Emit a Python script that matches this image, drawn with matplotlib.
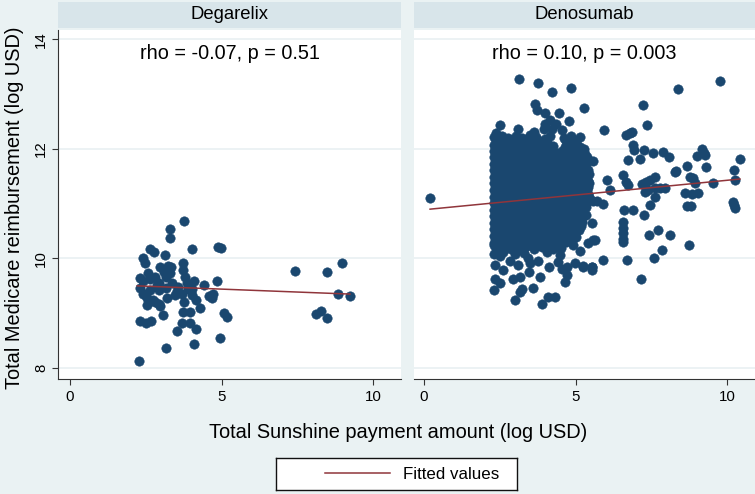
import matplotlib
matplotlib.use("Agg")
import matplotlib.pyplot as plt
from matplotlib.lines import Line2D

plt.rcParams['font.family'] = ['Liberation Sans', 'DejaVu Sans']

# ---- data ----
panel_names = ["Degarelix", "Denosumab"]
panel_stats = ["rho = -0.07, p = 0.51", "rho = 0.10, p = 0.003"]
x_ticks = [0, 5, 10]
y_ticks = [8, 10, 12, 14]

deg_x = [2.28, 3.17, 4.09, 4.96, 3.53, 4.16, 3.71, 3.95, 2.31, 2.51, 2.66, 3.08, 3.73, 3.95,
         4.30, 5.09, 5.17, 8.13, 8.30, 8.49, 8.83, 9.24, 7.42, 8.49, 8.97, 3.77, 3.30, 3.31,
         2.63, 2.77, 3.13, 4.04, 4.89, 4.99, 2.42, 2.49, 3.24, 3.33, 3.74, 3.74, 3.10, 3.17,
         3.80, 2.42, 2.64, 2.81, 2.95, 3.36, 4.10, 4.42, 4.84, 2.31, 2.40, 2.55, 2.81, 2.95,
         2.55, 3.21, 3.47, 3.54, 3.90, 4.02, 4.16, 4.60, 4.71, 4.68, 2.95, 3.17, 2.64, 3.69,
         4.02, 2.75, 2.97, 2.31, 3.57, 3.30, 2.58, 3.85, 2.97, 2.86, 3.76, 2.47]
deg_y = [8.13, 8.36, 8.44, 8.55, 8.67, 8.72, 8.82, 8.83, 8.86, 8.83, 8.85, 8.96, 9.03, 9.03,
         9.09, 9.00, 8.94, 8.98, 9.05, 8.91, 9.36, 9.31, 9.78, 9.76, 9.92, 10.69, 10.53, 10.38,
         10.17, 10.11, 10.07, 10.17, 10.21, 10.19, 10.00, 9.91, 9.87, 9.85, 9.91, 9.79, 9.76, 9.67,
         9.67, 9.58, 9.62, 9.67, 9.56, 9.56, 9.59, 9.51, 9.58, 9.47, 9.36, 9.27, 9.21, 9.17,
         9.15, 9.27, 9.33, 9.41, 9.44, 9.33, 9.25, 9.31, 9.35, 9.27, 9.42, 9.47, 9.42, 9.36,
         9.45, 9.24, 9.13, 9.64, 9.48, 9.73, 9.73, 9.55, 9.85, 9.51, 9.21, 9.36]

# Denosumab: dense block between 2.3 and 5.4, then the scattered points around it
den_x = [
    2.31, 2.57, 2.76, 3.04, 3.23, 3.51, 3.70, 3.98, 4.17, 4.63, 4.86,
    2.30, 2.44, 2.66, 2.92, 3.13, 3.39, 3.60, 3.86, 4.07, 4.25, 4.77, 5.01,
    2.31, 2.54, 2.80, 3.01, 3.27, 3.48, 3.74, 3.95, 4.19, 4.57, 4.83, 5.06, 5.29,
    2.32, 2.42, 2.68, 2.89, 3.15, 3.36, 3.62, 3.83, 4.09, 4.27, 4.49, 4.73, 4.94, 5.19, 5.39,
    2.30, 2.56, 2.78, 3.03, 3.25, 3.50, 3.72, 3.97, 4.21, 4.61, 4.86, 5.07, 5.33,
    2.31, 2.44, 2.66, 2.91, 3.13, 3.38, 3.60, 3.85, 4.07, 4.32, 4.51, 4.76, 4.97, 5.21, 5.41,
    2.32, 2.54, 2.80, 3.01, 3.27, 3.48, 3.74, 3.95, 4.21, 4.42, 4.67, 4.87, 5.13, 5.34,
    2.30, 2.42, 2.68, 2.89, 3.15, 3.36, 3.62, 3.83, 4.09, 4.30, 4.55, 4.77, 5.03, 5.24, 5.45,
    2.31, 2.56, 2.78, 3.03, 3.25, 3.50, 3.72, 3.97, 4.19, 4.44, 4.65, 4.91, 5.13, 5.37,
    2.32, 2.44, 2.66, 2.91, 3.13, 3.38, 3.60, 3.85, 4.07, 4.32, 4.53, 4.79, 5.01, 5.27, 5.44,
    2.30, 2.54, 2.80, 3.01, 3.27, 3.48, 3.74, 3.95, 4.21, 4.42, 4.67, 4.89, 5.15, 5.37,
    2.31, 2.42, 2.68, 2.89, 3.15, 3.36, 3.62, 3.83, 4.09, 4.30, 4.55, 4.77, 5.03, 5.25,
    2.32, 2.56, 2.78, 3.03, 3.25, 3.50, 3.72, 3.97, 4.19, 4.44, 4.65, 4.91, 5.13, 5.36,
    2.30, 2.44, 2.66, 2.91, 3.13, 3.38, 3.60, 3.85, 4.07, 4.32, 4.53, 4.79, 5.01, 5.23,
    2.31, 2.54, 2.80, 3.01, 3.27, 3.48, 3.74, 3.95, 4.21, 4.42, 4.67, 4.89, 5.11,
    2.32, 2.42, 2.68, 2.89, 3.15, 3.36, 3.62, 3.83, 4.09, 4.30, 4.55, 4.77, 5.01,
    2.30, 2.56, 2.78, 3.03, 3.25, 3.50, 3.72, 3.97, 4.19, 4.44, 4.69,
    2.36, 2.58, 2.88, 3.12, 3.40, 3.64, 3.90, 4.26, 4.52,
    # above the block
    3.13, 3.76, 4.22, 4.84, 5.29, 3.66, 3.72, 3.99, 4.16, 4.44, 4.78, 2.51, 3.11, 3.64,
    3.96, 4.21, 4.54, 2.38, 5.94, 4.00, 4.35,
    # right edge of the block
    5.15, 5.59, 6.03, 6.14, 5.59, 5.70, 5.92, 5.53, 5.59, 5.53, 5.56, 5.25, 5.92,
    # far right
    7.24, 7.35, 8.37, 9.77, 6.67, 6.80, 6.85, 6.91, 6.94, 7.27, 7.57, 7.90, 8.10, 6.72,
    7.13, 9.16, 9.24, 9.00, 9.27, 8.67, 9.30, 10.43, 10.24, 8.31,
    6.58, 6.67, 6.74, 7.18, 7.34, 7.45, 7.62, 7.30, 7.40, 7.63, 7.80, 7.97, 7.63, 8.78,
    8.89, 8.95, 8.61, 8.83, 9.05, 9.55, 10.27, 8.28,
    6.58, 6.58, 6.58, 6.58, 6.58, 6.61, 6.91, 7.27, 7.46, 8.67, 8.81, 10.21, 10.24, 10.26,
    7.44, 7.73, 8.12, 8.73, 7.84, 7.59, 6.69, 7.16,
    0.20,
    # below the block
    3.88, 4.10, 4.32, 3.00, 3.17, 3.22, 2.31, 2.34, 2.51, 3.61, 3.83, 2.95, 3.17, 3.48,
    4.13, 2.62, 4.65, 4.71, 4.54, 4.71, 4.98, 5.26, 5.53, 2.34, 2.31, 2.84, 3.11, 3.77,
    3.44, 3.50, 4.49, 4.43, 4.93, 5.15, 5.42, 5.64, 2.62, 4.05, 4.05, 2.50, 3.00, 3.30,
]
den_y = [
    12.21, 12.24, 12.19, 12.23, 12.20, 12.25, 12.22, 12.18, 12.24, 12.20, 12.23,
    12.08, 12.12, 12.09, 12.11, 12.07, 12.12, 12.10, 12.08, 12.13, 12.06, 12.10, 12.12,
    11.97, 12.00, 11.96, 11.99, 11.98, 11.95, 12.00, 11.97, 11.99, 11.96, 12.00, 11.97, 11.99,
    11.85, 11.88, 11.84, 11.87, 11.86, 11.83, 11.88, 11.85, 11.87, 11.84, 11.86, 11.88, 11.84, 11.87, 11.85,
    11.73, 11.76, 11.72, 11.75, 11.74, 11.71, 11.76, 11.73, 11.75, 11.72, 11.74, 11.76, 11.73,
    11.61, 11.64, 11.60, 11.63, 11.62, 11.59, 11.64, 11.61, 11.63, 11.60, 11.62, 11.64, 11.60, 11.63, 11.61,
    11.49, 11.52, 11.48, 11.51, 11.50, 11.47, 11.52, 11.49, 11.51, 11.48, 11.50, 11.52, 11.48, 11.51,
    11.37, 11.40, 11.36, 11.39, 11.38, 11.35, 11.40, 11.37, 11.39, 11.36, 11.38, 11.40, 11.36, 11.39, 11.37,
    11.25, 11.28, 11.24, 11.27, 11.26, 11.23, 11.28, 11.25, 11.27, 11.24, 11.26, 11.28, 11.24, 11.27,
    11.13, 11.16, 11.12, 11.15, 11.14, 11.11, 11.16, 11.13, 11.15, 11.12, 11.14, 11.16, 11.12, 11.15, 11.13,
    11.01, 11.04, 11.00, 11.03, 11.02, 10.99, 11.04, 11.01, 11.03, 11.00, 11.02, 11.04, 11.00, 11.03,
    10.89, 10.92, 10.88, 10.91, 10.90, 10.87, 10.92, 10.89, 10.91, 10.88, 10.90, 10.92, 10.88, 10.91,
    10.77, 10.80, 10.76, 10.79, 10.78, 10.75, 10.80, 10.77, 10.79, 10.76, 10.78, 10.80, 10.76, 10.79,
    10.65, 10.68, 10.64, 10.67, 10.66, 10.63, 10.68, 10.65, 10.67, 10.64, 10.66, 10.68, 10.64, 10.67,
    10.53, 10.56, 10.52, 10.55, 10.54, 10.51, 10.56, 10.53, 10.55, 10.52, 10.54, 10.56, 10.52,
    10.41, 10.44, 10.40, 10.43, 10.42, 10.39, 10.44, 10.41, 10.43, 10.40, 10.42, 10.44, 10.40,
    10.29, 10.32, 10.28, 10.31, 10.30, 10.27, 10.32, 10.29, 10.31, 10.28, 10.30,
    10.19, 10.21, 10.17, 10.20, 10.22, 10.18, 10.21, 10.17, 10.20,
    # above the block
    13.27, 13.21, 13.04, 13.11, 12.75, 12.82, 12.71, 12.65, 12.53, 12.66, 12.50, 12.43, 12.37, 12.31,
    12.37, 12.37, 12.34, 12.29, 12.35, 12.45, 12.45,
    # right edge of the block
    12.21, 11.77, 11.43, 11.25, 11.04, 11.05, 11.00, 10.64, 10.33, 9.85, 9.79, 9.85, 9.97,
    # far right
    12.81, 12.43, 13.10, 13.24, 12.25, 12.29, 12.31, 12.07, 11.98, 11.98, 11.93, 11.95, 11.86, 11.80,
    11.81, 11.99, 11.92, 11.87, 11.89, 11.68, 11.67, 11.82, 11.61, 11.60,
    11.52, 11.40, 11.34, 11.36, 11.40, 11.43, 11.48, 11.22, 11.25, 11.28, 11.28, 11.28, 11.13, 11.49,
    11.46, 11.37, 11.19, 11.18, 11.19, 11.37, 11.43, 11.58,
    10.30, 10.36, 10.46, 10.55, 10.67, 10.88, 10.88, 10.79, 10.97, 10.96, 10.96, 11.03, 10.97, 10.93,
    10.43, 10.52, 10.43, 10.24, 10.16, 10.00, 9.97, 9.62,
    11.10,
    # below the block
    9.17, 9.29, 9.30, 9.24, 9.39, 9.45, 9.42, 9.62, 9.56, 9.47, 9.67, 9.62, 9.67, 9.76,
    9.84, 9.79, 9.57, 9.70, 9.80, 9.85, 9.91, 9.87, 9.84, 9.88, 10.09, 9.96, 9.88, 9.96,
    10.00, 9.91, 10.06, 9.94, 10.25, 10.13, 10.28, 10.34, 10.12, 10.12, 10.24, 10.05, 10.08, 10.10,
]

# more Denosumab points packed in between the rows of the block
den_fill_x = [
    2.36, 2.62, 2.85, 3.09, 3.31, 3.56, 3.78, 4.03, 4.70, 4.95,
    2.37, 2.60, 2.86, 3.07, 3.33, 3.55, 3.80, 4.01, 4.12, 4.66, 4.90, 5.15,
    2.36, 2.61, 2.84, 3.09, 3.32, 3.56, 3.79, 4.02, 4.15, 4.38, 4.62, 4.88, 5.12, 5.33,
    2.37, 2.60, 2.86, 3.07, 3.33, 3.55, 3.80, 4.01, 4.26, 4.50, 4.74, 4.97, 5.22, 5.42,
    2.36, 2.61, 2.84, 3.09, 3.32, 3.56, 3.79, 4.02, 4.26, 4.40, 4.63, 4.88, 5.11, 5.35,
    2.37, 2.60, 2.86, 3.07, 3.33, 3.55, 3.80, 4.01, 4.26, 4.48, 4.72, 4.95, 5.19, 5.43,
    2.36, 2.61, 2.84, 3.09, 3.32, 3.56, 3.79, 4.02, 4.26, 4.49, 4.72, 4.96, 5.19, 5.40,
    2.37, 2.60, 2.86, 3.07, 3.33, 3.55, 3.80, 4.01, 4.26, 4.48, 4.72, 4.95, 5.19, 5.42,
    2.36, 2.61, 2.84, 3.09, 3.32, 3.56, 3.79, 4.02, 4.26, 4.49, 4.72, 4.96, 5.19, 5.41,
    2.37, 2.60, 2.86, 3.07, 3.33, 3.55, 3.80, 4.01, 4.26, 4.48, 4.72, 4.95, 5.19, 5.42,
    2.36, 2.61, 2.84, 3.09, 3.32, 3.56, 3.79, 4.02, 4.26, 4.49, 4.72, 4.96, 5.19, 5.36,
    2.37, 2.60, 2.86, 3.07, 3.33, 3.55, 3.80, 4.01, 4.26, 4.48, 4.72, 4.95, 5.19,
    2.36, 2.61, 2.84, 3.09, 3.32, 3.56, 3.79, 4.02, 4.26, 4.49, 4.72, 4.96, 5.18,
    2.37, 2.60, 2.86, 3.07, 3.33, 3.55, 3.80, 4.01, 4.26, 4.48, 4.72, 4.95, 5.17,
    2.36, 2.61, 2.84, 3.09, 3.32, 3.56, 3.79, 4.02, 4.26, 4.49, 4.72, 4.94,
    2.37, 2.60, 2.86, 3.07, 3.33, 3.55, 3.80, 4.01, 4.26, 4.56, 4.85,
    2.31, 2.45, 2.72, 2.98, 3.22, 3.52, 3.78, 4.08, 4.35,
]
den_fill_y = [
    12.16, 12.14, 12.17, 12.15, 12.16, 12.18, 12.15, 12.16, 12.14, 12.17,
    12.04, 12.03, 12.05, 12.02, 12.04, 12.06, 12.03, 12.05, 12.02, 12.04, 12.05, 12.03,
    11.92, 11.91, 11.93, 11.90, 11.92, 11.94, 11.91, 11.93, 11.90, 11.92, 11.93, 11.91, 11.92, 11.90,
    11.80, 11.79, 11.81, 11.78, 11.80, 11.82, 11.79, 11.81, 11.78, 11.80, 11.81, 11.79, 11.80, 11.78,
    11.68, 11.67, 11.69, 11.66, 11.68, 11.70, 11.67, 11.69, 11.66, 11.68, 11.69, 11.67, 11.68, 11.66,
    11.56, 11.55, 11.57, 11.54, 11.56, 11.58, 11.55, 11.57, 11.54, 11.56, 11.57, 11.55, 11.56, 11.54,
    11.44, 11.43, 11.45, 11.42, 11.44, 11.46, 11.43, 11.45, 11.42, 11.44, 11.45, 11.43, 11.44, 11.42,
    11.32, 11.31, 11.33, 11.30, 11.32, 11.34, 11.31, 11.33, 11.30, 11.32, 11.33, 11.31, 11.32, 11.30,
    11.20, 11.19, 11.21, 11.18, 11.20, 11.22, 11.19, 11.21, 11.18, 11.20, 11.21, 11.19, 11.20, 11.18,
    11.08, 11.07, 11.09, 11.06, 11.08, 11.10, 11.07, 11.09, 11.06, 11.08, 11.09, 11.07, 11.08, 11.06,
    10.96, 10.95, 10.97, 10.94, 10.96, 10.98, 10.95, 10.97, 10.94, 10.96, 10.97, 10.95, 10.96, 10.94,
    10.84, 10.83, 10.85, 10.82, 10.84, 10.86, 10.83, 10.85, 10.82, 10.84, 10.85, 10.83, 10.84,
    10.72, 10.71, 10.73, 10.70, 10.72, 10.74, 10.71, 10.73, 10.70, 10.72, 10.73, 10.71, 10.72,
    10.60, 10.59, 10.61, 10.58, 10.60, 10.62, 10.59, 10.61, 10.58, 10.60, 10.61, 10.59, 10.60,
    10.48, 10.47, 10.49, 10.46, 10.48, 10.50, 10.47, 10.49, 10.46, 10.48, 10.49, 10.47,
    10.36, 10.35, 10.37, 10.34, 10.36, 10.38, 10.35, 10.37, 10.34, 10.36, 10.37,
    10.25, 10.24, 10.26, 10.23, 10.25, 10.26, 10.24, 10.25, 10.23,
]

# fitted lines (end points)
deg_fit_x = [2.22, 9.24]
deg_fit_y = [9.50, 9.35]
den_fit_x = [0.20, 10.43]
den_fit_y = [10.90, 11.45]

# ---- styling ----
W, H = 755, 494
BG = '#eaf2f3'
BAR = '#d8e5ea'
NAVY = '#1a476f'
MAROON = '#90353b'
AX = '#333333'

fig = plt.figure(figsize=(W / 100, H / 100), dpi=100, facecolor=BG)


def rect(x0, y0, x1, y1):
    # pixel box measured from top-left -> figure fraction
    return [x0 / W, 1 - y1 / H, (x1 - x0) / W, (y1 - y0) / H]


px_per_unit = 30.3
panels = [
    (deg_x, deg_y, deg_fit_x, deg_fit_y, 58, 401, 70),
    (den_x + den_fill_x, den_y + den_fill_y, den_fit_x, den_fit_y, 414, 755, 424),
]

for i, (xs, ys, fx, fy, left, right, zero) in enumerate(panels):
    ax = fig.add_axes(rect(left, 30, right, 379))
    ax.set_facecolor('white')
    ax.scatter(xs, ys, s=46, color=NAVY, edgecolors=NAVY, linewidths=0.4, zorder=2)
    ax.plot(fx, fy, color=MAROON, lw=1.1, zorder=3)
    ax.set_xlim(-(zero - left) / px_per_unit, (right - zero) / px_per_unit)
    ax.set_ylim(7.8, 14.17)
    ax.set_xticks(x_ticks)
    ax.set_yticks(y_ticks)
    ax.yaxis.grid(True, color='#e9f0f2', lw=1.2)
    ax.set_axisbelow(True)
    for s in ['top', 'right']:
        ax.spines[s].set_visible(False)
    ax.spines['bottom'].set_color(AX)
    ax.spines['left'].set_color(AX)
    ax.tick_params(axis='x', labelsize=10.8, length=4, color=AX, pad=4)
    if i == 0:
        ax.tick_params(axis='y', labelsize=10.8, length=4, color=AX, pad=3,
                       labelrotation=90)
        for lab in ax.get_yticklabels():
            lab.set_va('center')
    else:
        ax.spines['left'].set_visible(False)
        ax.tick_params(axis='y', left=False, labelleft=False)
    ax.text(0.5, 0.934, panel_stats[i], transform=ax.transAxes,
            ha='center', va='center', fontsize=14.3)

    tax = fig.add_axes(rect(left, 2, right, 28))
    tax.set_facecolor(BAR)
    tax.set_xticks([])
    tax.set_yticks([])
    for s in tax.spines.values():
        s.set_visible(False)
    tax.text(0.5, 0.5, panel_names[i], ha='center', va='center', fontsize=13.3)

fig.text(398 / W, 1 - 432 / H, "Total Sunshine payment amount (log USD)",
         ha='center', va='center', fontsize=14.4)
fig.text(15 / W, 1 - 208 / H, "Total Medicare reimbursement (log USD)",
         ha='center', va='center', rotation=90, fontsize=14.4)

lax = fig.add_axes(rect(276, 458, 517, 490))
lax.set_facecolor('white')
lax.set_xticks([])
lax.set_yticks([])
for s in lax.spines.values():
    s.set_color('#111111')
    s.set_linewidth(1)
handle = Line2D([], [], color=MAROON, lw=1.1)
lax.legend([handle], ["Fitted values"], loc='center', bbox_to_anchor=(0.564, 0.5),
           frameon=False, handlelength=3.85, handletextpad=0.77, fontsize=12.2,
           borderpad=0, borderaxespad=0)

fig.savefig("out.png", dpi=100, facecolor=BG)
